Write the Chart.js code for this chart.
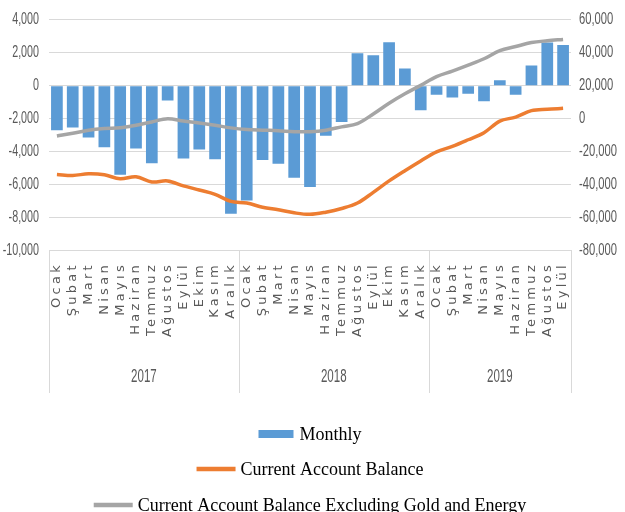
<!DOCTYPE html>
<html>
<head>
<meta charset="utf-8">
<script src="https://cdn.jsdelivr.net/npm/chart.js@4.4.1/dist/chart.umd.min.js"></script>
<style>
html,body{margin:0;padding:0;background:#fff;}
#wrap{position:relative;width:625px;height:512px;}
</style>
</head>
<body>
<div id="wrap"><canvas id="c" width="625" height="512"></canvas></div>
<script>
const monthNames = ['Ocak','Şubat','Mart','Nisan','Mayıs','Haziran','Temmuz','Ağustos','Eylül','Ekim','Kasım','Aralık'];
const years = ['2017','2018','2019'];
const monthsPerYear = [12, 12, 9];
const categories = [
  'Ocak','Şubat','Mart','Nisan','Mayıs','Haziran','Temmuz','Ağustos','Eylül','Ekim','Kasım','Aralık',
  'Ocak','Şubat','Mart','Nisan','Mayıs','Haziran','Temmuz','Ağustos','Eylül','Ekim','Kasım','Aralık',
  'Ocak','Şubat','Mart','Nisan','Mayıs','Haziran','Temmuz','Ağustos','Eylül'
];
const monthly = [-2700,-2530,-3140,-3720,-5390,-3800,-4690,-900,-4410,-3860,-4450,-7740,
                 -6940,-4490,-4720,-5570,-6130,-3020,-2200,1960,1840,2630,1040,-1490,
                 -550,-720,-490,-940,330,-550,1230,2610,2470];
const currentAccountBalance = [-33700,-34300,-33300,-33900,-36300,-35100,-38200,-37600,-40600,-43100,-45700,-50000,
                               -51000,-53500,-55100,-56900,-57800,-56500,-54300,-51000,-44500,-37600,-31400,-25500,
                               -20000,-16700,-12700,-8400,-1400,1000,4900,5700,6300];
const excludingGoldEnergy = [-10400,-8800,-6900,-5900,-5500,-3900,-1900,0,-1400,-2500,-3900,-5500,
                             -6500,-6900,-7200,-7800,-7800,-6900,-4900,-2900,2900,9400,15100,20200,
                             25500,28800,32400,36300,41200,43700,46100,47200,48000];
const seriesNames = ['Monthly','Current Account Balance','Current Account Balance Excluding Gold and Energy'];
const leftAxis = {min: -10000, max: 4000, step: 2000};
const rightAxis = {min: -80000, max: 60000, step: 20000};

const GRID = '#D9D9D9';
const TXT = '#595959';
const SANS = "'Liberation Sans',Arial,sans-serif";

const fmt = v => Number(v).toLocaleString('en-US');

function wrapLabels(scale, fn, noClip) {
  if (!scale || scale._wrapped) return;
  const orig = scale.drawLabels.bind(scale);
  if (noClip) scale._computeLabelArea = () => undefined;
  scale.drawLabels = function(area) {
    const c = this.ctx; c.save();
    fn(this, c);
    orig(area);
    c.restore();
  };
  scale._wrapped = true;
}

const textPlugin = {
  id: 'textTweaks',
  afterUpdate(chart) {
    wrapLabels(chart.scales.x, (s, c) => { c.letterSpacing = '3.3px'; }, false);
    wrapLabels(chart.scales.y, (s, c) => {
      const ax = s.right - s.options.ticks.padding;
      c.translate(ax, 0); c.scale(0.67, 1); c.translate(-ax, 0);
    }, true);
    wrapLabels(chart.scales.y1, (s, c) => {
      const ax = s.left + s.options.ticks.padding;
      c.translate(ax, 0); c.scale(0.7, 1); c.translate(-ax, 0);
    }, true);
  }
};

const groupPlugin = {
  id: 'groups',
  afterDraw(chart) {
    const ctx = chart.ctx, xs = chart.scales.x, area = chart.chartArea;
    const bottomY = 393;
    const bounds = [area.left];
    let idx = 0;
    monthsPerYear.forEach(n => {
      idx += n;
      if (idx < categories.length) {
        bounds.push((xs.getPixelForValue(idx - 1) + xs.getPixelForValue(idx)) / 2);
      } else {
        bounds.push(area.right);
      }
    });
    ctx.save();
    ctx.strokeStyle = GRID; ctx.lineWidth = 1;
    bounds.forEach(b => {
      const x = Math.round(b) + 0.5;
      ctx.beginPath(); ctx.moveTo(x, area.bottom); ctx.lineTo(x, bottomY); ctx.stroke();
    });
    ctx.fillStyle = TXT;
    ctx.font = "18px " + SANS;
    ctx.textAlign = 'center'; ctx.textBaseline = 'middle';
    years.forEach((y, i) => {
      const cx = (bounds[i] + bounds[i + 1]) / 2;
      ctx.save();
      ctx.translate(cx, 377); ctx.scale(0.64, 1);
      ctx.fillText(y, 0, 0);
      ctx.restore();
    });
    ctx.restore();
  }
};

const legendPlugin = {
  id: 'customLegend',
  afterDraw(chart) {
    const ctx = chart.ctx, area = chart.chartArea;
    const cx = (area.left + area.right) / 2;
    const rows = [434, 469, 505];
    ctx.save();
    ctx.font = "18px 'Liberation Serif','Times New Roman',serif";
    ctx.textBaseline = 'middle'; ctx.textAlign = 'left';
    chart.data.datasets.forEach((ds, i) => {
      const y = rows[i];
      const tw = ctx.measureText(ds.label).width;
      const isBar = (ds.type || chart.config.type) === 'bar';
      const mw = isBar ? 35 : 39;
      const gap = isBar ? 6 : 5;
      const total = mw + gap + tw;
      const x0 = cx - total / 2;
      if (isBar) {
        ctx.fillStyle = ds.backgroundColor;
        ctx.fillRect(x0, y - 4, mw, 8);
      } else {
        ctx.strokeStyle = ds.borderColor; ctx.lineWidth = 4.5; ctx.lineCap = 'butt';
        ctx.beginPath(); ctx.moveTo(x0, y); ctx.lineTo(x0 + mw, y); ctx.stroke();
      }
      ctx.fillStyle = '#000';
      ctx.fillText(ds.label, x0 + mw + gap, y + 1);
    });
    ctx.restore();
  }
};

new Chart(document.getElementById('c'), {
  type: 'bar',
  data: {
    labels: categories,
    datasets: [
      {
        type: 'bar', label: seriesNames[0], data: monthly, yAxisID: 'y',
        backgroundColor: '#5B9BD5', barPercentage: 0.74, categoryPercentage: 1.0, order: 3
      },
      {
        type: 'line', label: seriesNames[1], data: currentAccountBalance, yAxisID: 'y1',
        borderColor: '#ED7D31', backgroundColor: '#ED7D31', borderWidth: 3.5,
        pointRadius: 0, tension: 0.35, order: 2
      },
      {
        type: 'line', label: seriesNames[2], data: excludingGoldEnergy, yAxisID: 'y1',
        borderColor: '#A5A5A5', backgroundColor: '#A5A5A5', borderWidth: 3.5,
        pointRadius: 0, tension: 0.35, order: 1
      }
    ]
  },
  options: {
    responsive: false,
    devicePixelRatio: 1,
    animation: false,
    layout: {padding: {top: 13, left: 0, right: 0, bottom: 118}},
    plugins: {legend: {display: false}, tooltip: {enabled: false}},
    scales: {
      x: {
        type: 'category', offset: true,
        grid: {display: false, drawTicks: false},
        border: {display: true, color: GRID, width: 1},
        ticks: {
          autoSkip: false, maxRotation: 90, minRotation: 90, padding: 11,
          color: TXT, font: {family: "'DejaVu Sans',sans-serif", size: 13}
        },
        afterFit(s) { s.height = 143; }
      },
      y: {
        position: 'left', min: leftAxis.min, max: leftAxis.max,
        grid: {color: GRID, drawTicks: false},
        border: {display: false},
        ticks: {stepSize: leftAxis.step, padding: 10, color: TXT,
                font: {family: SANS, size: 16}, callback: v => fmt(v)},
        afterFit(s) { s.width = 49; }
      },
      y1: {
        position: 'right', min: rightAxis.min, max: rightAxis.max,
        grid: {display: false, drawOnChartArea: false, drawTicks: false},
        border: {display: false},
        ticks: {stepSize: rightAxis.step, padding: 8, color: TXT,
                font: {family: SANS, size: 16}, callback: v => fmt(v)},
        afterFit(s) { s.width = 54; }
      }
    }
  },
  plugins: [textPlugin, groupPlugin, legendPlugin]
});
</script>
</body>
</html>
